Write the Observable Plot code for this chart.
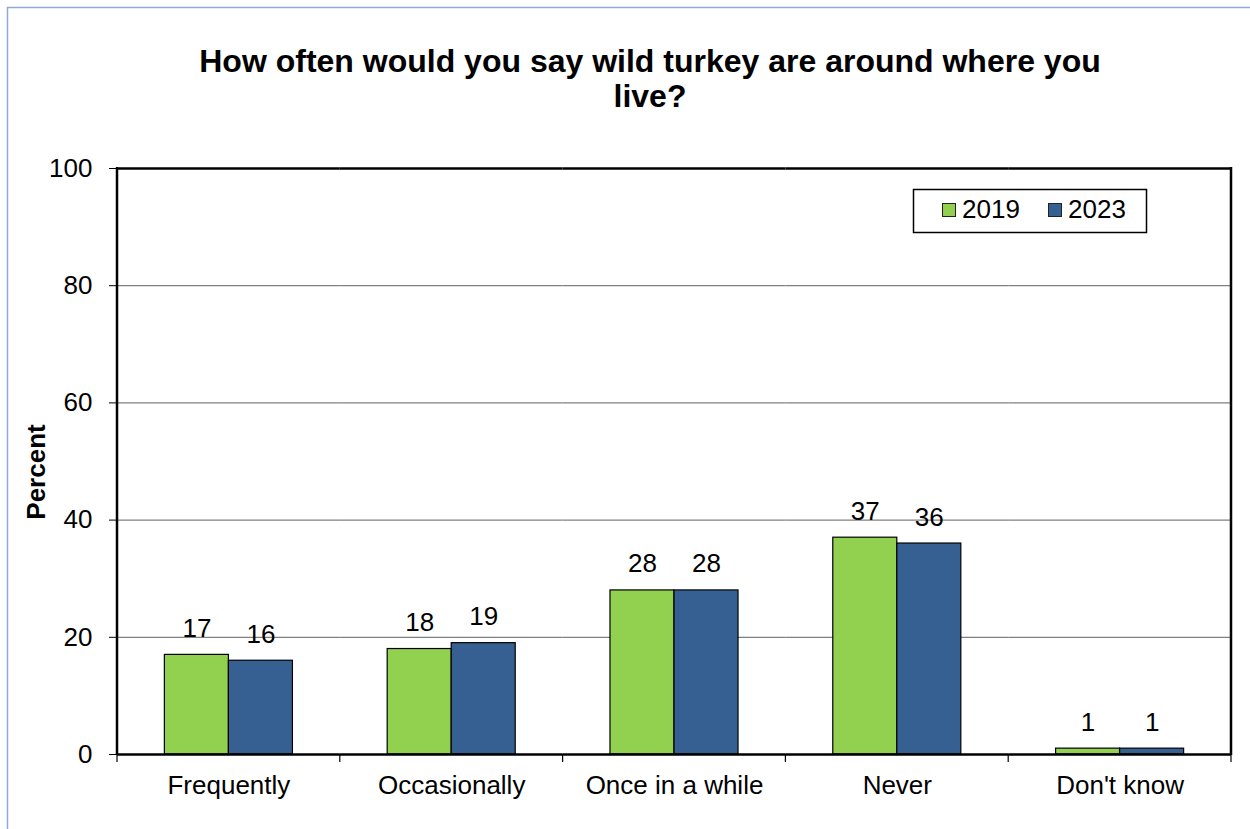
<!DOCTYPE html>
<html>
<head>
<meta charset="utf-8">
<script src="https://cdn.jsdelivr.net/npm/d3@7"></script>
<script src="https://cdn.jsdelivr.net/npm/@observablehq/plot@0.6"></script>
<style>
  html, body { margin: 0; padding: 0; background: #fff; }
  svg { display: block; }
</style>
</head>
<body>
<div id="chart"></div>
<script>
const title = ["How often would you say wild turkey are around where you", "live?"];
const yLabel = "Percent";
const categories = ["Frequently", "Occasionally", "Once in a while", "Never", "Don't know"];
const years = ["2019", "2023"];
const values2019 = [17, 18, 28, 37, 1];
const values2023 = [16, 19, 28, 36, 1];
const yTicks = [0, 20, 40, 60, 80, 100];
const colors = ["#92D050", "#376092"];

const data = categories.flatMap((c, i) => [
  {category: c, year: years[0], value: values2019[i]},
  {category: c, year: years[1], value: values2023[i]}
]);

const FONT = "'Liberation Sans', Arial, Helvetica, sans-serif";

const plot = Plot.plot({
  width: 1250,
  height: 829,
  marginTop: 168,
  marginLeft: 117,
  marginRight: 19,
  marginBottom: 75,
  style: {fontFamily: FONT, fontSize: "26px", color: "#000", background: "transparent", overflow: "visible"},
  fx: {domain: categories, padding: 0, round: false, label: null, tickSize: 0, tickPadding: 21},
  x: {domain: years, paddingInner: 0, paddingOuter: 0.74, round: false, axis: null},
  y: {domain: [0, 100], ticks: yTicks, tickSize: 8, tickPadding: 17, label: null},
  color: {domain: years, range: colors},
  marks: [
    Plot.ruleY(yTicks.slice(1, -1), {stroke: "#808080", strokeWidth: 1.3}),
    Plot.barY(data, {fx: "category", x: "year", y: "value", fill: "year", stroke: "#000", strokeWidth: 1.2}),
    Plot.text(data, {fx: "category", x: "year", y: "value", text: d => String(d.value), lineAnchor: "bottom", dy: -18, fill: "#000", fontSize: 26}),
    Plot.ruleY([0, 100], {stroke: "#000", strokeWidth: 2.5})
  ]
});

const svg = d3.select(plot);
const fx = plot.scale("fx");
const y = plot.scale("y");
const color = plot.scale("color");
const y0 = y.apply(0), y100 = y.apply(100);
const starts = categories.map(c => fx.apply(c));
const left = d3.min(starts), right = d3.max(starts) + fx.bandwidth;

// outer border
svg.insert("rect", ":first-child")
  .attr("x", 7.5).attr("y", 7.5).attr("width", 1400).attr("height", 1000)
  .attr("fill", "none").attr("stroke", "#8EAADB").attr("stroke-width", 1.5);

// frame sides
svg.append("g").attr("stroke", "#000").attr("stroke-width", 2.5)
  .selectAll("line").data([left, right]).join("line")
  .attr("x1", d => d).attr("x2", d => d).attr("y1", y100 - 1).attr("y2", y0 + 1);

// category boundary ticks
svg.append("g").attr("stroke", "#000").attr("stroke-width", 1.2)
  .selectAll("line").data([...starts, right]).join("line")
  .attr("x1", d => d).attr("x2", d => d).attr("y1", y0).attr("y2", y0 + 8);

// title
svg.append("text")
  .attr("x", 650).attr("y", 72)
  .attr("text-anchor", "middle")
  .attr("font-family", FONT).attr("font-size", 32).attr("font-weight", "bold")
  .selectAll("tspan").data(title).join("tspan")
  .attr("x", 650).attr("dy", (d, i) => i === 0 ? 0 : 35)
  .text(d => d);

// y label
svg.append("text")
  .attr("transform", `translate(45, 472) rotate(-90)`)
  .attr("text-anchor", "middle")
  .attr("font-family", FONT).attr("font-size", 26).attr("font-weight", "bold")
  .text(yLabel);

// legend
const lg = svg.append("g").attr("font-family", FONT).attr("font-size", 26).attr("text-anchor", "start");
lg.append("rect").attr("x", 913.5).attr("y", 189.5).attr("width", 233).attr("height", 43)
  .attr("fill", "#fff").attr("stroke", "#000").attr("stroke-width", 1.5);
const legendX = [942, 1048];
const textX = [962, 1068];
years.forEach((yr, i) => {
  lg.append("rect").attr("x", legendX[i] + 0.5).attr("y", 203.5).attr("width", 13).attr("height", 13)
    .attr("fill", color.apply(yr)).attr("stroke", "#222").attr("stroke-width", 1);
  lg.append("text").attr("x", textX[i]).attr("y", 218).attr("text-anchor", "start").text(yr);
});

document.getElementById("chart").appendChild(plot);
</script>
</body>
</html>
